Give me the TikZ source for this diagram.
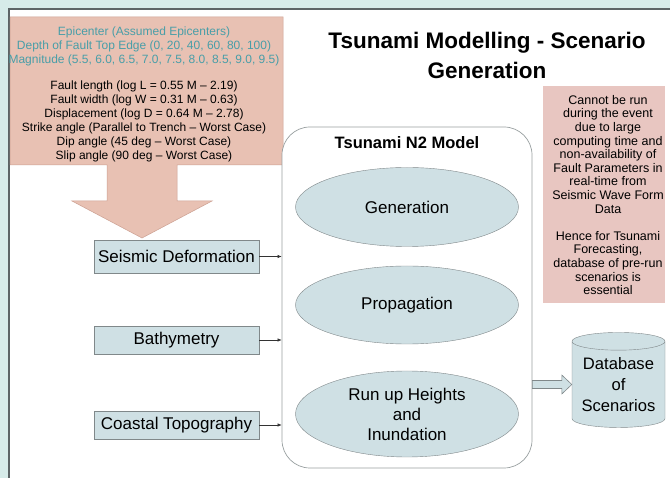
\documentclass[tikz,border=0pt]{standalone}
\usepackage{fontspec}
\setmainfont{Liberation Sans}
\usepackage{xcolor}
\usepackage{tikz}
\usetikzlibrary{calc,positioning,shapes.geometric,arrows.meta}
\definecolor{slideback}{RGB}{214,235,233}
\definecolor{slideedge}{RGB}{92,100,102}
\definecolor{paramfill}{RGB}{232,193,179}
\definecolor{paramedge}{RGB}{204,160,146}
\definecolor{notefill}{RGB}{232,198,193}
\definecolor{inputtext}{RGB}{72,158,168}
\definecolor{stepfill}{RGB}{207,224,228}
\definecolor{stepedge}{RGB}{128,136,138}

\begin{document}
\begin{tikzpicture}[x=1pt, y=-1pt,
  stepbox/.style={draw=stepedge, fill=stepfill, inner sep=0pt, minimum width=165pt,
    font=\fontsize{17}{20}\selectfont},
  phase/.style={ellipse, draw=stepedge, fill=stepfill, inner sep=0pt, minimum width=223pt,
    align=center, font=\fontsize{17}{20}\selectfont},
  feed/.style={draw=black!80, line width=0.6pt, -{Latex[length=4pt,width=3.5pt]}}]
% Slide: teal margin, white page; left/top page edges show.
% Parameter block is one explicit path (box + shaft + head), not a node.
\useasboundingbox (0,0) rectangle (670,478);
\fill[slideback] (0,0) rectangle (670,478);
\draw[slideedge, line width=1.2pt, fill=white] (9,488) -- (9,9) -- (680,9) -- (680,488);
% big parameter arrow
\draw[paramedge, fill=paramfill, line width=0.5pt]
  (10,17) -- (283,17) -- (283,165) -- (177,165) -- (177,201) -- (212,201)
  -- (142,238) -- (72,201) -- (107,201) -- (107,165) -- (10,165) -- cycle;
\node[anchor=north, align=center, inner sep=0pt, font=\fontsize{12}{14}\selectfont] (params) at (144,27)
  {\textcolor{inputtext}{Epicenter (Assumed Epicenters)}\\
   \textcolor{inputtext}{Depth of Fault Top Edge (0, 20, 40, 60, 80, 100)}\\
   \textcolor{inputtext}{Magnitude (5.5, 6.0, 6.5, 7.0, 7.5, 8.0, 8.5, 9.0, 9.5)}\\[12pt]
   Fault length (log L = 0.55 M -- 2.19)\\
   Fault width (log W = 0.31 M -- 0.63)\\
   Displacement (log D = 0.64 M -- 2.78)\\
   Strike angle (Parallel to Trench -- Worst Case)\\
   Dip angle (45 deg -- Worst Case)\\
   Slip angle (90 deg -- Worst Case)};
% title
\node[anchor=north, align=center, inner sep=0pt, font=\fontsize{22.5}{29}\selectfont\bfseries] (title) at (487,32.5)
  {Tsunami Modelling - Scenario\\Generation};
% note
\fill[notefill] (543,86) rectangle (665,303);
\node[anchor=north, align=center, inner sep=0pt, font=\fontsize{12.5}{13.6}\selectfont] (note) at (608,95)
  {Cannot be run\\during the event\\due to large\\computing time and\\non-availability of\\
   Fault Parameters in\\real-time from\\Seismic Wave Form\\Data\\[13.6pt]
   Hence for Tsunami\\Forecasting,\\database of pre-run\\scenarios is\\essential};
% model container
\node[draw=stepedge!80, fill=white, rounded corners=28pt, minimum width=250pt, minimum height=341pt,
  line width=0.7pt] (model) at (407,297.5) {};
\node[font=\fontsize{16.5}{20}\selectfont\bfseries, inner sep=0pt] (mtitle) at (407,143) {Tsunami N2 Model};
\node[phase, minimum height=79pt] (gen) at (407,207) {Generation};
\node[phase, minimum height=78pt] (prop) at (407,305) {Propagation};
\node[phase, minimum height=86pt] (runup) at (407,414) {Run up Heights\\and\\Inundation};
% inputs
\node[stepbox, minimum height=33pt] (seis) at (176.5,256.5) {Seismic Deformation};
\node[stepbox, minimum height=28pt] (bathy) at (176.5,340) {Bathymetry};
\node[stepbox, minimum height=28pt] (coast) at (176.5,425) {Coastal Topography};
\draw[feed] (seis.east) -- (seis.east -| model.west);
\draw[feed] (bathy.east) -- (bathy.east -| model.west);
\draw[feed] (coast.east) -- (coast.east -| model.west);
% database
\node[cylinder, shape border rotate=90, draw=stepedge, fill=stepfill, aspect=0.24,
  minimum height=95pt, minimum width=93pt, inner sep=0pt, align=center,
  font=\fontsize{16.6}{21}\selectfont] (db) at (618.5,384.5) {Database\\of\\Scenarios};
\draw[stepedge, fill=stepfill, line width=0.6pt]
  let \p1=(model.east |- db.center), \p2=(db.west) in
  (\x1,\y1+4) -- (\x2-10,\y1+4) -- (\x2-10,\y1+9.5) -- (\x2,\y1)
  -- (\x2-10,\y1-9.5) -- (\x2-10,\y1-4) -- (\x1,\y1-4) -- cycle;
\end{tikzpicture}
\end{document}
